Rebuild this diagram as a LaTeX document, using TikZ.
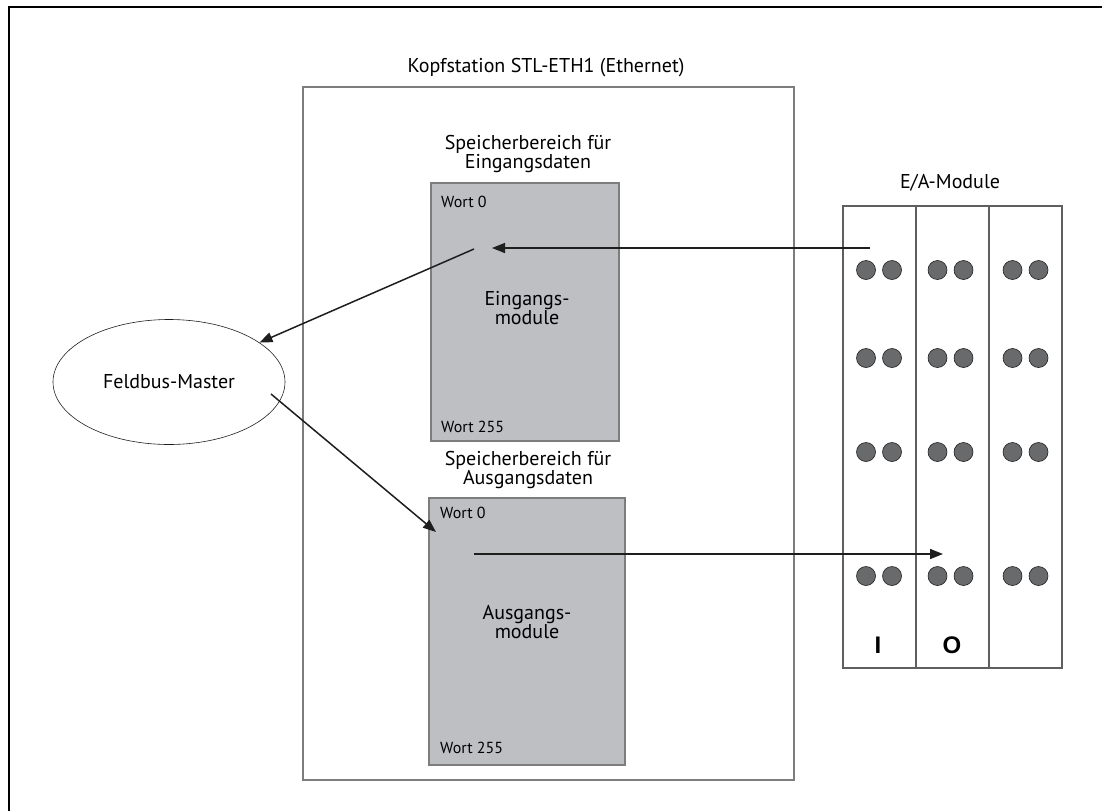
\documentclass[tikz,border=0pt]{standalone}
\usepackage{fontspec}
\setmainfont{PT Sans}
\newfontfamily\iofont{Liberation Sans}
\usepackage{tikz}
\usetikzlibrary{shapes.geometric, arrows.meta, positioning, calc}
\definecolor{mygray}{RGB}{190,191,195}
\definecolor{myedge}{RGB}{125,125,125}
\definecolor{mydark}{RGB}{30,30,30}
\definecolor{mydot}{RGB}{105,106,108}
\definecolor{myrack}{RGB}{95,95,95}
\tikzset{
  station/.style={rectangle, draw=myedge, fill=white,
    inner sep=0pt, line width=1.3pt},
  memblock/.style={rectangle, draw=myedge, fill=mygray,
    inner sep=0pt, line width=1.3pt},
  modblock/.style={rectangle, draw=myrack, fill=white,
    minimum width=73pt, minimum height=462pt, inner sep=0pt, line width=1.3pt},
  busnode/.style={ellipse, draw=mydark, fill=white,
    minimum width=232pt, minimum height=125pt, line width=0.6pt,
    font=\fontsize{20}{23}\selectfont},
  ledhole/.style={circle, draw=mydark, fill=mydot,
    minimum size=19pt, inner sep=0pt, line width=0.6pt},
  titletext/.style={align=center, inner sep=0pt,
    font=\fontsize{20}{19}\selectfont},
  wordtext/.style={inner sep=0pt, font=\fontsize{16}{17}\selectfont},
  iotext/.style={inner sep=0pt, font=\fontsize{24}{26}\selectfont\iofont\bfseries},
  arrow/.style={-{Triangle[length=13pt,width=10pt]}, line width=1.5pt, color=mydark},
  frame/.style={line width=1.8pt, color=black}
}
\begin{document}
\begin{tikzpicture}[x=1pt, y=-1pt]
  \useasboundingbox (0,0) rectangle (1102,811);
  % Frame
  \draw[frame] (9,811) -- (9,7) -- (1102,7);
  % Kopfstation
  \node[station, minimum width=491pt, minimum height=693pt] (kopf) at (548.5,433.5) {};
  \node[titletext] (kopftitle) at (546,68) {Kopfstation STL-ETH1 (Ethernet)};
  % Speicherbereiche
  \node[memblock, minimum width=188pt, minimum height=258pt] (inmem) at (525,312) {};
  \node[memblock, minimum width=196pt, minimum height=267pt] (outmem) at (527,631.5) {};
  \node[titletext] (intitle) at (528,154) {Speicherbereich für\\Eingangsdaten};
  \node[titletext] (outtitle) at (528,470) {Speicherbereich für\\Ausgangsdaten};
  \node[titletext] (intext) at (527,308) {Eingangs-\\module};
  \node[titletext] (outtext) at (527,622) {Ausgangs-\\module};
  \node[wordtext, anchor=west] (inw0) at (441,202) {Wort 0};
  \node[wordtext, anchor=west] (inw255) at (441,427) {Wort 255};
  \node[wordtext, anchor=west] (outw0) at (440,513) {Wort 0};
  \node[wordtext, anchor=west] (outw255) at (440,748) {Wort 255};
  % Feldbus-Master
  \node[busnode] (master) at (169,382) {Feldbus-Master};
  % E/A-Module
  \node[modblock] (modI) at (879.5,437) {};
  \node[modblock] (modO) at (952.5,437) {};
  \node[modblock] (modX) at (1025.5,437) {};
  \node[titletext] (modtitle) at (950,183) {E/A-Module};
  \foreach \r in {270,358,452,576} {
    \foreach \cx in {879,950.5,1025.5} {
      \node[ledhole] at (\cx-13,\r) {};
      \node[ledhole] at (\cx+13,\r) {};
    }
  }
  \node[iotext] (ilabel) at (878,645) {I};
  \node[iotext] (olabel) at (952,645) {O};
  % Datenfluss
  \coordinate (inend) at (870,248);
  \coordinate (intip) at (492,248);
  \coordinate (inout) at (474,249);
  \coordinate (mout) at (271,394);
  \coordinate (outtip) at (436,532);
  \coordinate (outstart) at (474,554);
  \coordinate (modtip) at (943,554);
  \draw[arrow] (inend) -- (intip);
  \draw[arrow] (inout) -- (master);
  \draw[arrow] (mout) -- (outtip);
  \draw[arrow] (outstart) -- (modtip);
\end{tikzpicture}
\end{document}
